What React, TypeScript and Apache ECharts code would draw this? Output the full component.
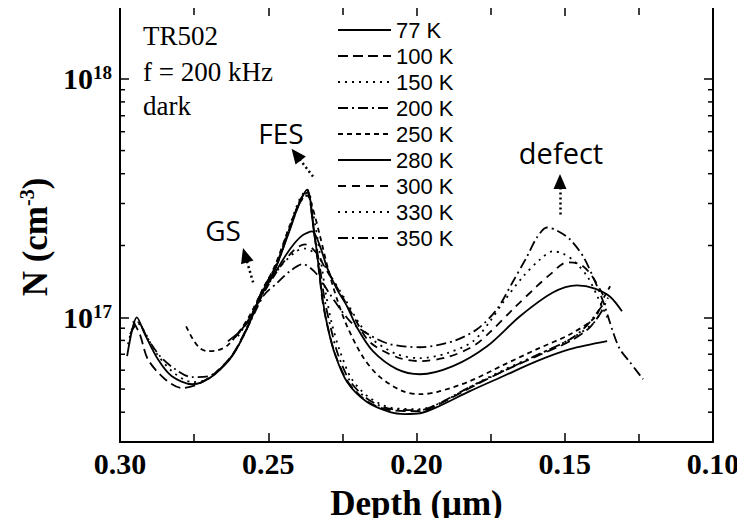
import React, { useEffect, useRef } from 'react';
import * as echarts from 'echarts';

// ---- data (N in units of 1e17 cm^-3, depth in µm) ----
const temperatures = ['77 K', '100 K', '150 K', '200 K', '250 K', '280 K', '300 K', '330 K', '350 K'];

const depth77 = [0.2976, 0.2943, 0.2916, 0.2872, 0.2825, 0.2757, 0.2723, 0.268, 0.2622, 0.2568, 0.2521, 0.2477, 0.2427, 0.2393, 0.2369, 0.2346, 0.2329, 0.2315, 0.2298, 0.2275, 0.2234, 0.2167, 0.2089, 0.2039, 0.1988, 0.1931, 0.182, 0.1708, 0.1594, 0.1482, 0.1357];
const n77 = [0.687, 1.0, 0.849, 0.667, 0.566, 0.524, 0.535, 0.577, 0.687, 0.917, 1.27, 1.59, 2.33, 3.06, 3.43, 2.33, 1.59, 1.155, 0.891, 0.7, 0.535, 0.441, 0.4, 0.393, 0.396, 0.42, 0.49, 0.566, 0.655, 0.735, 0.794];

const depth100 = [0.2956, 0.2933, 0.2906, 0.2848, 0.2791, 0.2737, 0.268, 0.2622, 0.2568, 0.2521, 0.2477, 0.2427, 0.2393, 0.2369, 0.2346, 0.2329, 0.2315, 0.2295, 0.2272, 0.2231, 0.2167, 0.2089, 0.1988, 0.1931, 0.182, 0.1708, 0.1594, 0.1482, 0.1415, 0.1371];
const n100 = [0.962, 0.849, 0.667, 0.55, 0.505, 0.524, 0.583, 0.694, 0.926, 1.29, 1.62, 2.38, 3.09, 3.4, 2.29, 1.56, 1.13, 0.866, 0.687, 0.535, 0.445, 0.408, 0.404, 0.428, 0.505, 0.594, 0.687, 0.794, 0.908, 1.08];

const depth150 = [0.2973, 0.2946, 0.2922, 0.2882, 0.2825, 0.2757, 0.2713, 0.2669, 0.2616, 0.2565, 0.2521, 0.2474, 0.2427, 0.2393, 0.2369, 0.2342, 0.2322, 0.2305, 0.2285, 0.2258, 0.2218, 0.2157, 0.2079, 0.1988, 0.1921, 0.182, 0.1708, 0.1594, 0.1482, 0.1398, 0.1354];
const n150 = [0.771, 0.962, 0.891, 0.721, 0.595, 0.535, 0.545, 0.595, 0.707, 0.935, 1.29, 1.65, 2.43, 3.15, 3.43, 2.45, 1.71, 1.24, 0.935, 0.721, 0.55, 0.459, 0.416, 0.412, 0.437, 0.51, 0.6, 0.694, 0.809, 0.962, 1.21];

const depth200 = [0.2966, 0.2939, 0.2909, 0.2865, 0.2814, 0.2757, 0.2703, 0.2663, 0.2612, 0.2565, 0.2521, 0.2474, 0.2427, 0.2393, 0.2369, 0.2346, 0.2325, 0.2309, 0.2288, 0.2265, 0.2224, 0.216, 0.2083, 0.1988, 0.1928, 0.182, 0.1708, 0.1594, 0.1482, 0.1425, 0.1371];
const n200 = [0.849, 0.953, 0.824, 0.687, 0.606, 0.561, 0.566, 0.606, 0.721, 0.944, 1.29, 1.63, 2.36, 3.03, 3.33, 2.29, 1.59, 1.17, 0.891, 0.7, 0.54, 0.45, 0.412, 0.408, 0.433, 0.51, 0.594, 0.694, 0.809, 0.926, 1.13];

const depth250 = [0.2777, 0.2754, 0.273, 0.2703, 0.2669, 0.2636, 0.2595, 0.2562, 0.2521, 0.2477, 0.2427, 0.2393, 0.2369, 0.2349, 0.2325, 0.2298, 0.2268, 0.2234, 0.218, 0.2123, 0.2046, 0.1988, 0.1931, 0.182, 0.1708, 0.1594, 0.1482, 0.1398, 0.1371, 0.1347];
const n250 = [0.917, 0.809, 0.742, 0.721, 0.728, 0.764, 0.882, 1.02, 1.29, 1.65, 2.43, 3.03, 3.24, 2.83, 2.18, 1.59, 1.19, 0.917, 0.68, 0.561, 0.49, 0.476, 0.486, 0.54, 0.63, 0.735, 0.849, 1.0, 1.19, 1.35];

const depth280 = [0.2636, 0.2589, 0.2545, 0.2518, 0.2477, 0.2427, 0.2386, 0.2352, 0.2325, 0.2302, 0.2268, 0.2234, 0.2201, 0.2147, 0.2066, 0.1988, 0.1877, 0.1762, 0.1651, 0.154, 0.1459, 0.1398, 0.1347, 0.1307];
const n280 = [0.794, 0.891, 1.08, 1.27, 1.54, 1.93, 2.2, 2.29, 1.98, 1.62, 1.31, 1.11, 0.908, 0.721, 0.606, 0.577, 0.624, 0.756, 1.01, 1.27, 1.36, 1.32, 1.22, 1.06];

const depth300 = [0.2612, 0.2562, 0.2518, 0.2461, 0.241, 0.2376, 0.2342, 0.2309, 0.2258, 0.2207, 0.2157, 0.2066, 0.1988, 0.1897, 0.1809, 0.1752, 0.1675, 0.1594, 0.155, 0.1492, 0.1449, 0.1415, 0.1381, 0.1361];
const n300 = [0.824, 0.981, 1.25, 1.62, 1.93, 2.02, 1.89, 1.62, 1.27, 0.981, 0.786, 0.68, 0.655, 0.68, 0.756, 0.866, 1.08, 1.35, 1.51, 1.7, 1.67, 1.53, 1.31, 1.17];

const depth330 = [0.2602, 0.2562, 0.2518, 0.2461, 0.2406, 0.2376, 0.2332, 0.2292, 0.2241, 0.2191, 0.215, 0.2066, 0.1988, 0.1897, 0.1809, 0.1752, 0.1708, 0.1641, 0.1583, 0.154, 0.1506, 0.1466, 0.1422, 0.1388, 0.1357];
const n330 = [0.832, 1.0, 1.26, 1.62, 1.89, 1.94, 1.8, 1.51, 1.19, 0.935, 0.809, 0.7, 0.674, 0.707, 0.794, 0.962, 1.155, 1.48, 1.75, 1.89, 1.85, 1.71, 1.47, 1.21, 1.0];

const depth350 = [0.2578, 0.2545, 0.2514, 0.2471, 0.2427, 0.2383, 0.2339, 0.2292, 0.2224, 0.2157, 0.2089, 0.1988, 0.1877, 0.1796, 0.1729, 0.1675, 0.1627, 0.1594, 0.156, 0.1526, 0.1482, 0.1438, 0.1405, 0.1371, 0.1337, 0.1314, 0.128, 0.1236];
const n350 = [0.866, 1.05, 1.24, 1.39, 1.56, 1.67, 1.53, 1.25, 0.962, 0.841, 0.771, 0.749, 0.794, 0.891, 1.08, 1.41, 1.8, 2.16, 2.38, 2.31, 2.12, 1.8, 1.48, 1.17, 0.866, 0.735, 0.648, 0.55];

const depths = [depth77, depth100, depth150, depth200, depth250, depth280, depth300, depth330, depth350];
const values = [n77, n100, n150, n200, n250, n280, n300, n330, n350];

// axes
const xMin = 0.10;
const xMax = 0.30;
const xInterval = 0.05;
const yMin = 3e16;
const yMax = 2e18;
const yMinorTicks = [4e16, 5e16, 6e16, 7e16, 8e16, 9e16, 2e17, 3e17, 4e17, 5e17, 6e17, 7e17, 8e17, 9e17];

// annotation arrows: [fromDepth, fromN, toDepth, toN] (N in 1e17)
const arrowFES = [0.2349, 3.89, 0.2406, 4.81];
const arrowGS = [0.2551, 1.40, 0.2578, 1.82];
const arrowDefect = [0.1516, 2.70, 0.1516, 3.71];

const dashTypes: any[] = ['solid', [10, 5], [2, 5], [10, 4, 2, 4], [5, 4], 'solid', [8, 6], [2, 5], [10, 4, 2, 4]];

export default function App() {
  const ref = useRef<HTMLDivElement>(null);
  useEffect(() => {
    if (!ref.current) return;
    const chart = echarts.init(ref.current, undefined, { renderer: 'svg' });
    const serif = '"Liberation Serif", "Times New Roman", serif';
    const sans = '"Liberation Sans", Arial, sans-serif';
    const annSans = '"Open Sans", "Noto Sans", sans-serif';

    const lineSeries = temperatures.map((t, i) => {
      const s: any = {
        name: t,
        type: 'line',
        xAxisIndex: 0,
        yAxisIndex: 0,
        symbol: 'none',
        smooth: 0.3,
        data: depths[i].map((d, j) => [d, values[i][j] * 1e17]),
        lineStyle: { color: '#000', width: 1.8, type: dashTypes[i] },
        itemStyle: { color: '#000' },
        emphasis: { disabled: true },
        silent: true,
        z: 3,
      };
      if (i === 0) {
        const mk = (a: number[]) => [
          { coord: [a[0], a[1] * 1e17] },
          { coord: [a[2], a[3] * 1e17] },
        ];
        s.markLine = {
          silent: true,
          symbol: ['none', 'triangle'],
          symbolSize: [13, 15],
          label: { show: false },
          lineStyle: { color: '#000', width: 2.5, type: [2, 3] },
          emphasis: { disabled: true },
          data: [mk(arrowFES), mk(arrowGS), mk(arrowDefect)],
        };
      }
      return s;
    });

    const tickSeries = {
      type: 'custom',
      xAxisIndex: 0,
      yAxisIndex: 0,
      silent: true,
      clip: false,
      data: yMinorTicks.map((v) => [0.2, v]),
      renderItem: (params: any, api: any) => {
        const y = api.coord([0.2, api.value(1)])[1];
        const cs = params.coordSys;
        const st = { stroke: '#000', lineWidth: 1.5 };
        return {
          type: 'group',
          children: [
            { type: 'line', shape: { x1: cs.x, y1: y, x2: cs.x + 5, y2: y }, style: st },
            { type: 'line', shape: { x1: cs.x + cs.width, y1: y, x2: cs.x + cs.width - 5, y2: y }, style: st },
          ],
        };
      },
    };

    const xCommon = {
      type: 'value',
      min: xMin,
      max: xMax,
      interval: xInterval,
      inverse: true,
      axisLine: { lineStyle: { color: '#000', width: 2 } },
      axisTick: { inside: true, length: 9, lineStyle: { color: '#000', width: 1.5 } },
      minorTick: { show: true, splitNumber: 2, length: 8, lineStyle: { color: '#000', width: 1.5 } },
      splitLine: { show: false },
    };
    const yCommon = {
      type: 'log',
      logBase: 10,
      min: yMin,
      max: yMax,
      axisLine: { lineStyle: { color: '#000', width: 2 } },
      axisTick: { inside: true, length: 9, lineStyle: { color: '#000', width: 1.5 } },
      splitLine: { show: false },
    };

    const option: any = {
      animation: false,
      grid: { left: 120, top: 7, right: 32, bottom: 83, containLabel: false },
      legend: {
        orient: 'vertical',
        left: 337,
        top: 17,
        padding: 0,
        itemGap: 0,
        itemWidth: 53,
        itemHeight: 14,
        selectedMode: false,
        data: temperatures,
        itemStyle: { opacity: 0 },
        textStyle: { fontFamily: sans, fontSize: 22, color: '#000', lineHeight: 26 },
      },
      xAxis: [
        {
          ...xCommon,
          position: 'bottom',
          axisLabel: {
            formatter: (v: number) => v.toFixed(2),
            fontFamily: serif,
            fontWeight: 'bold',
            fontSize: 30,
            color: '#000',
            margin: 6,
          },
          name: 'Depth (μm)',
          nameLocation: 'middle',
          nameGap: 44,
          nameTextStyle: { fontFamily: serif, fontWeight: 'bold', fontSize: 35, color: '#000' },
        },
        { ...xCommon, position: 'top', axisLabel: { show: false } },
      ],
      yAxis: [
        {
          ...yCommon,
          position: 'left',
          axisLabel: {
            margin: 8,
            formatter: (v: number) => {
              const e = Math.log10(v);
              const r = Math.round(e);
              if (Math.abs(e - r) > 1e-6) return '';
              return '{b|10}{s|' + r + '}';
            },
            rich: {
              b: { fontFamily: serif, fontWeight: 'bold', fontSize: 30, color: '#000', lineHeight: 30 },
              s: { fontFamily: serif, fontWeight: 'bold', fontSize: 19, color: '#000', padding: [0, 0, 12, 0], lineHeight: 19 },
            },
          },
        },
        { ...yCommon, position: 'right', axisLabel: { show: false } },
      ],
      graphic: [
        { type: 'text', left: 143, top: 22, style: { text: 'TR502', font: '27px ' + serif, fill: '#000' } },
        { type: 'text', left: 143, top: 58, style: { text: 'f = 200 kHz', font: '27px ' + serif, fill: '#000' } },
        { type: 'text', left: 143, top: 92, style: { text: 'dark', font: '27px ' + serif, fill: '#000' } },
        { type: 'text', x: 281, y: 133, style: { text: 'FES', font: '28px ' + annSans, fill: '#000', align: 'center', verticalAlign: 'middle' } },
        { type: 'text', x: 223, y: 230, style: { text: 'GS', font: '28px ' + annSans, fill: '#000', align: 'center', verticalAlign: 'middle' } },
        { type: 'text', x: 561, y: 152, style: { text: 'defect', font: '29px ' + annSans, fill: '#000', align: 'center', verticalAlign: 'middle' } },
        {
          type: 'text',
          x: 35,
          y: 237,
          rotation: Math.PI / 2,
          style: {
            text: '{a|N (cm}{s|-3}{a|)}',
            align: 'center',
            verticalAlign: 'middle',
            fill: '#000',
            rich: {
              a: { fontFamily: serif, fontWeight: 'bold', fontSize: 35, fill: '#000', lineHeight: 35 },
              s: { fontFamily: serif, fontWeight: 'bold', fontSize: 20, fill: '#000', padding: [0, 0, 16, 0], lineHeight: 20 },
            },
          },
        },
      ],
      series: [...lineSeries, tickSeries],
    };
    chart.setOption(option);
    return () => chart.dispose();
  }, []);
  return <div ref={ref} style={{ width: 745, height: 526, margin: -8 }} />;
}
